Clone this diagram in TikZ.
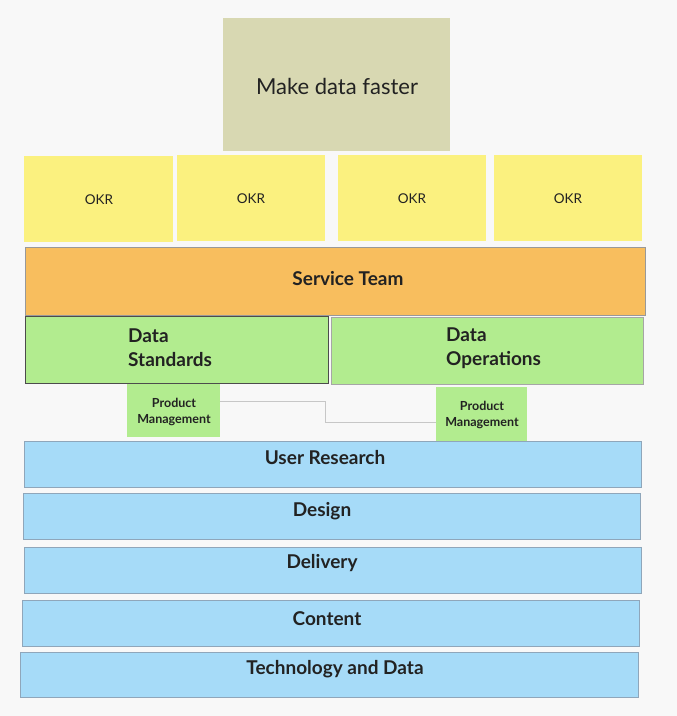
\documentclass[tikz,border=0pt]{standalone}
\usepackage{fontspec}
\setmainfont{Lato}
\definecolor{bg}{HTML}{F8F8F8}
\definecolor{topc}{HTML}{D8D8B2}
\definecolor{okrc}{HTML}{FBF17F}
\definecolor{orc}{HTML}{F8BE5E}
\definecolor{grc}{HTML}{B2EC8F}
\definecolor{blc}{HTML}{A6DBF8}
\definecolor{blb}{HTML}{8FA6BA}
\definecolor{txt}{HTML}{222222}
\begin{document}
\begin{tikzpicture}[x=1pt,y=-1pt,
  box/.style={inner sep=0pt,outer sep=0pt},
  lbl/.style={text=txt,inner sep=0pt,font=\fontsize{19}{22}\selectfont\bfseries},
  okrbox/.style={box,fill=okrc},
  okrlbl/.style={text=txt,inner sep=0pt,font=\fontsize{13.5}{16}\selectfont},
  bluebox/.style={box,fill=blc,draw=blb,line width=0.9pt},
  pmbox/.style={box,fill=grc},
  pmlbl/.style={lbl,font=\fontsize{12.5}{16}\selectfont\bfseries,align=center},
  conn/.style={draw=black!22,line width=1pt}]
\useasboundingbox[fill=bg] (0,0) rectangle (677,716);
% top
\path[box,fill=topc] (223,18) rectangle (450,151);
\node[box] (top) at (336.5,84.5) {};
\node[text=txt,inner sep=0pt,font=\fontsize{22}{26}\selectfont] (toplbl) at (337,86) {Make data faster};
% OKRs
\path[okrbox] (24,156) rectangle (173,242);
\path[okrbox] (177,155) rectangle (325,241);
\path[okrbox] (338,155) rectangle (486,241);
\path[okrbox] (494,155) rectangle (642,241);
\node[okrlbl] (okr1) at (99,200) {OKR};
\node[okrlbl] (okr2) at (251,198.5) {OKR};
\node[okrlbl] (okr3) at (412,198.5) {OKR};
\node[okrlbl] (okr4) at (568,198.5) {OKR};
% service team
\path[box,fill=orc,draw=black!40,line width=0.8pt] (25,247) rectangle (645,315);
\node[lbl] (st) at (348,279) {Service Team};
% data boxes
\path[box,fill=grc,draw=black!70,line width=0.8pt] (25,316) rectangle (328,383);
\path[box,fill=grc,draw=black!35,line width=0.8pt] (331,317) rectangle (643,384);
\node[lbl,align=left,anchor=north west,font=\fontsize{19}{24}\selectfont\bfseries] (ds) at (128,329) {Data\\Standards};
\node[lbl,align=left,anchor=north west,font=\fontsize{19}{24}\selectfont\bfseries] (dop) at (446,327.5) {Data\\Operations};
% product management
\node[pmbox,minimum width=93pt,minimum height=53pt] (pm1) at (173.5,410.5) {};
\node[pmbox,minimum width=91pt,minimum height=54pt] (pm2) at (481.5,414) {};
\node[pmlbl] (pm1l) at (174,412) {Product\\Management};
\node[pmlbl] (pm2l) at (482,415) {Product\\Management};
\draw[conn] ([yshift=9.5pt]pm1.east) -- (325,401) -- (325,422) -- ([yshift=-8pt]pm2.west);
% blue bands
\path[bluebox] (24,441) rectangle (641,487);
\path[bluebox] (23,493) rectangle (640,539);
\path[bluebox] (24,547) rectangle (641,593);
\path[bluebox] (22,600) rectangle (639,646);
\path[bluebox] (20,652) rectangle (638,697);
\node[lbl] (ur) at (325,458) {User Research};
\node[lbl] (de) at (322,511) {Design};
\node[lbl] (dl) at (322,563) {Delivery};
\node[lbl] (co) at (327,619) {Content};
\node[lbl] (td) at (335,669) {Technology and Data};
\end{tikzpicture}
\end{document}
